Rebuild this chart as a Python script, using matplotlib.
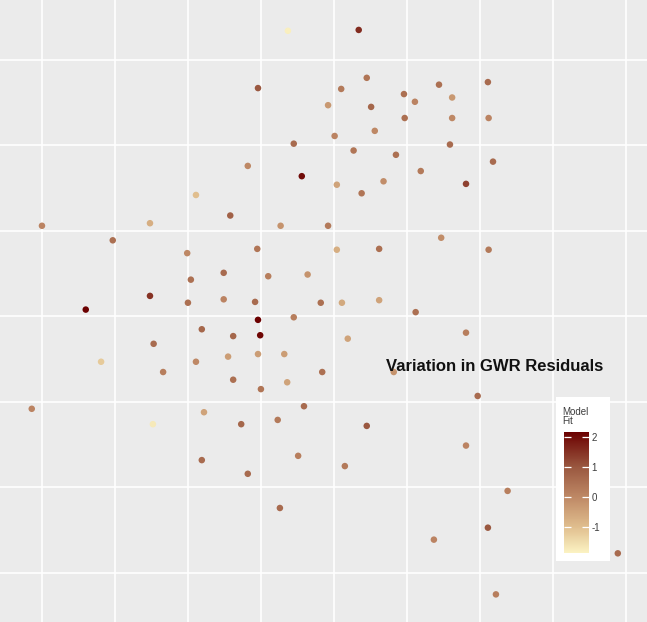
"""Scatter of GWR residuals over space, ggplot-like grey panel."""

import matplotlib
matplotlib.use("Agg")
import matplotlib.pyplot as plt
import numpy as np
from matplotlib.colors import LinearSegmentedColormap, Normalize
from matplotlib.patches import Rectangle

plt.rcParams["axes.unicode_minus"] = False

# ---------------------------------------------------------------------------
# Data (grid units)
# ---------------------------------------------------------------------------

x_coord = [
    3.37, 2.96, 3.92, 3.45, 2.82, 3.56, 2.11, 2.58, 0.00, 1.48,
    3.27, 3.92, 0.97, 1.99, 2.95, 2.04, 2.49, 3.10, 3.64, 1.48,
    0.60, 2.00, 2.49, 2.92, 3.82, 3.45, 2.96, 4.34, 4.45, 4.10,
    4.51, 4.96, 5.11, 5.44, 5.62, 6.11, 4.97, 5.62, 6.12, 4.01,
    4.56, 4.27, 4.85, 5.59, 6.18, 5.19, 4.68, 4.04, 4.38, 5.81,
    5.47, 4.04, 4.62, 6.12, 4.11, 4.62, 5.12, 2.19, 2.62, 2.99,
    1.53, 0.81, 1.66, 2.11, 2.55, 2.96, 3.32, 3.84, 2.62, 3.00,
    3.36, -0.14, 2.22, 1.52, 2.73, 3.23, 3.59, 2.19, 2.82, 3.51,
    3.26, 5.81, 4.19, 4.82, 5.97, 4.45, 5.81, 4.15, 6.38, 6.11,
    5.37, 7.89, 6.22,
]
y_coord = [
    6.34, 5.67, 5.47, 5.02, 4.76, 4.64, 4.42, 4.18, 4.06, 4.09,
    4.06, 4.06, 3.89, 3.74, 3.79, 3.43, 3.51, 3.47, 3.49, 3.24,
    3.08, 3.16, 3.20, 3.17, 3.16, 2.99, 2.96, 6.35, 5.79, 5.66,
    5.45, 5.60, 5.51, 5.71, 5.56, 5.74, 5.32, 5.32, 5.32, 5.11,
    5.17, 4.94, 4.89, 5.01, 4.81, 4.70, 4.58, 4.54, 4.44, 4.55,
    3.92, 3.78, 3.79, 3.78, 3.16, 3.19, 3.05, 2.85, 2.77, 2.78,
    2.68, 2.47, 2.35, 2.47, 2.53, 2.56, 2.56, 2.35, 2.26, 2.15,
    2.23, 1.92, 1.88, 1.74, 1.74, 1.79, 1.95, 1.32, 1.16, 1.37,
    0.76, 2.81, 2.74, 2.35, 2.07, 1.72, 1.49, 1.25, 0.96, 0.53,
    0.39, 0.23, -0.25,
]
residual = [
    -1.8, 1.0, -0.3, 0.6, 0.0, 2.0, -1.0, 0.8, 0.1, -0.7,
    -0.2, 0.3, 0.5, 0.0, 0.4, 0.5, 0.6, 0.2, -0.2, 1.5,
    2.2, 0.5, 0.1, 0.6, 0.5, 0.2, 2.2, 1.6, 0.4, 0.3,
    0.7, 0.5, 0.1, 0.5, -0.3, 0.6, 0.5, 0.0, 0.1, 0.1,
    0.0, 0.4, 0.5, 0.6, 0.6, 0.3, -0.1, -0.5, 0.4, 1.3,
    -0.1, -0.7, 0.5, 0.3, -0.6, -0.5, 0.5, 0.7, 0.7, 2.1,
    0.6, -1.2, 0.2, 0.0, -0.4, -0.4, -0.4, 0.5, 0.5, 0.4,
    -0.5, 0.1, -0.5, -1.7, 0.7, 0.3, 0.6, 0.6, 0.6, 0.2,
    0.6, 0.2, -0.5, -0.2, 0.6, 1.0, 0.1, 0.3, 0.2, 1.0,
    0.1, 0.6, 0.2,
]
cbar_ticks = [-1, 0, 1, 2]
fit_range = (-1.87, 2.17)

# ---------------------------------------------------------------------------
# Style
# ---------------------------------------------------------------------------

PANEL = "#EBEBEB"
GRID = "white"
TEXT = "#3C3C3C"

fit_cmap = LinearSegmentedColormap.from_list(
    "model_fit",
    [(0.0, "#FBF3C3"), (0.215, "#E0BE8E"), (0.463, "#BE8865"),
     (0.71, "#9A5840"), (1.0, "#6B0000")],
)
norm = Normalize(*fit_range)

fig = plt.figure(figsize=(6.47, 6.22), dpi=100)
ax = fig.add_axes([0, 0, 1, 1])
ax.set_facecolor(PANEL)
for s in ax.spines.values():
    s.set_visible(False)

ax.set_xlim(-0.575, 8.29)
ax.set_ylim(-0.573, 6.70)
ax.set_xticks(np.arange(0, 9))
ax.set_yticks(np.arange(0, 7))
ax.tick_params(length=0, labelbottom=False, labelleft=False)
ax.grid(True, color=GRID, linewidth=1.2)
ax.set_axisbelow(True)

ax.scatter(x_coord, y_coord, c=residual, cmap=fit_cmap, norm=norm,
           s=22, linewidths=0, zorder=3)

ax.text(0.765, 0.411, "Variation in GWR Residuals", transform=ax.transAxes,
        ha="center", va="center", fontsize=12, fontweight="bold",
        family="Liberation Sans", color="#111111", zorder=5)

# Legend box with colour bar
fig.patches.append(Rectangle((0.8594, 0.0981), 0.0835, 0.2637,
                             transform=fig.transFigure, facecolor="white",
                             edgecolor="none", zorder=4))
fig.text(0.869, 0.346, "Model\nFit", ha="left", va="top", fontsize=7,
         family="Liberation Sans", color=TEXT, linespacing=0.95, zorder=6)

cax = fig.add_axes([0.8717, 0.1109, 0.0386, 0.1945], zorder=6)
cb = fig.colorbar(plt.cm.ScalarMappable(norm=norm, cmap=fit_cmap), cax=cax,
                  ticks=cbar_ticks)
cb.outline.set_visible(False)
cax.yaxis.set_ticks_position("both")
cax.tick_params(direction="in", length=5, width=0.9, color="white",
                labelcolor=TEXT, labelsize=7, pad=2, left=True, right=True)
for lbl in cax.get_yticklabels():
    lbl.set_family("Liberation Sans")

fig.savefig("out.png", dpi=100)
